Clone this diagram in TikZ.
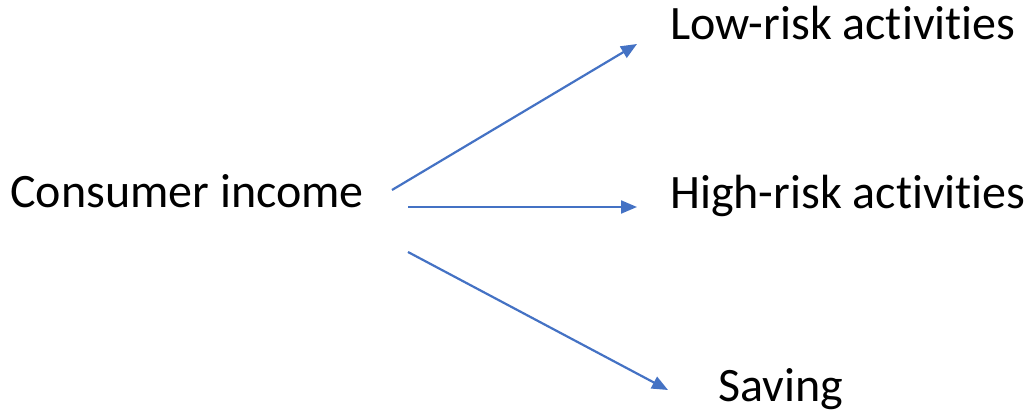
\documentclass[tikz,border=0pt]{standalone}
\usepackage{fontspec}
\setmainfont{Carlito}[Ligatures={NoCommon}]
\usetikzlibrary{arrows.meta}
\definecolor{arrowblue}{HTML}{4472C4}
\begin{document}
\begin{tikzpicture}[x=1pt,y=-1pt,
  label/.style={inner sep=0pt,anchor=base west,font=\fontsize{48}{58}\selectfont},
  flow/.style={draw=arrowblue,line width=2.2pt,-{Triangle[length=16pt,width=13pt]}}]
\useasboundingbox (0,0) rectangle (1030,419);
\node[label] (src) at (10,208) {Consumer income};
\node[label] (low) at (670,40) {Low-risk activities};
\node[label] (high) at (670,209) {High-risk activities};
\node[label] (sav) at (718,401) {Saving};
\coordinate (s1) at (392,190);
\coordinate (e1) at (637,44);
\coordinate (s2) at (408,207);
\coordinate (e2) at (637,207);
\coordinate (s3) at (408,252);
\coordinate (e3) at (668,390);
\draw[flow] (s1) -- (e1);
\draw[flow] (s2) -- (e2);
\draw[flow] (s3) -- (e3);
\end{tikzpicture}
\end{document}
